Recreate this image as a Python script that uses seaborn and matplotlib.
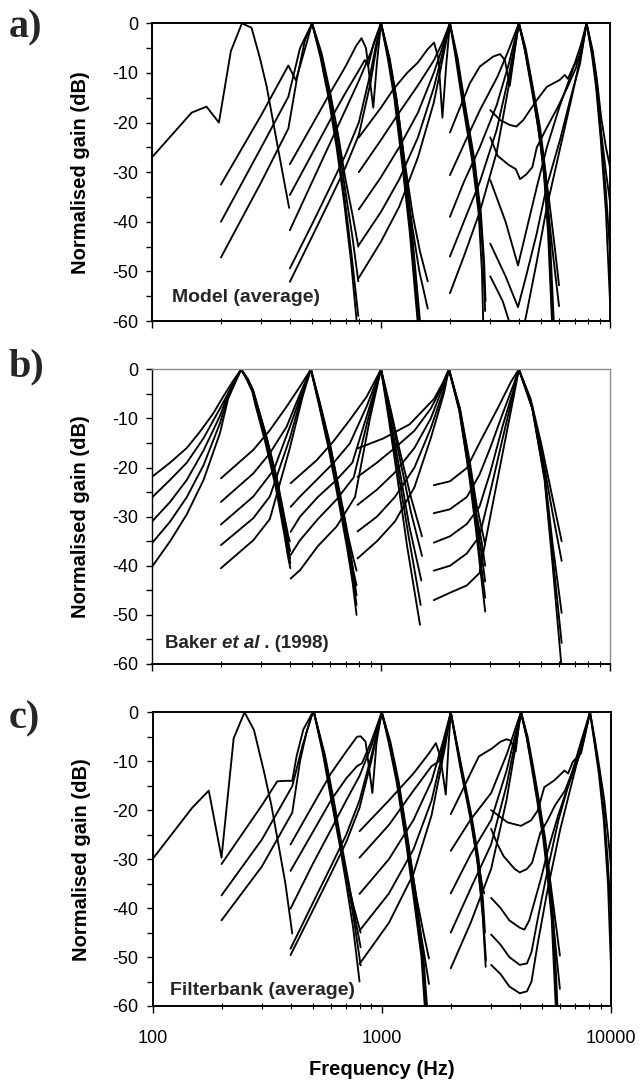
import matplotlib
matplotlib.use("Agg")
import matplotlib.pyplot as plt
import numpy as np
import pandas as pd
import seaborn as sns
from matplotlib.ticker import FixedLocator, FuncFormatter, NullFormatter
from matplotlib.offsetbox import TextArea, HPacker, AnchoredOffsetbox

# ---------------------------------------------------------------------------
# Filter shapes: each curve is a list of (frequency in Hz, normalised gain in dB)
# ---------------------------------------------------------------------------

# a) Model (average)
MODEL_250 = [
    [(100, -27), (149, -18), (173, -16.8), (196, -20), (221, -5.6), (247, 0), (272, -0.9),
     (296, -7), (317, -12.8), (356, -25.5), (397, -37.2)],
]
MODEL_500 = [
    [(200, -32.5), (300, -18.5), (394, -8.5), (425, -11.5), (470, -4.5), (500, 0)],
    [(200, -40), (300, -25), (394, -14.8), (443, -5), (500, 0)],
    [(200, -47.2), (300, -32), (394, -21.2), (430, -11), (465, -3.5), (500, 0)],
    [(500, 0), (550, -6), (600, -14), (650, -22.5), (700, -31.5), (750, -38.5), (796, -45)],
    [(500, 0), (550, -6.5), (600, -15), (650, -24), (700, -34), (750, -43), (796, -52)],
    [(500, 0), (545, -6.5), (595, -15), (645, -25), (695, -35.5), (745, -47), (796, -59)],
    [(500, 0), (545, -7), (590, -15), (640, -25), (690, -36), (740, -48), (790, -62)],
]
MODEL_1000 = [
    [(400, -28.4), (500, -20.5), (600, -14), (700, -8.7), (780, -4.5), (822, -3), (860, -5),
     (925, -17), (960, -8), (1000, 0)],
    [(400, -34.6), (500, -26.3), (600, -19.5), (700, -14), (800, -9.5), (850, -7.4), (880, -8.5),
     (930, -4), (1000, 0)],
    [(400, -41.7), (500, -32), (600, -24.1), (700, -17.4), (800, -11.6), (900, -6), (1000, 0)],
    [(400, -49.4), (500, -40.5), (600, -33), (700, -26.5), (800, -20), (900, -10), (950, -4.5), (1000, 0)],
    [(400, -52.1), (500, -43), (600, -35.5), (700, -29), (800, -22.5), (900, -12), (950, -5.5), (1000, 0)],
    [(1000, 0), (1080, -7), (1155, -15.3), (1253, -28.7), (1349, -42), (1459, -60), (1470, -62)],
    [(1000, 0), (1090, -7), (1170, -15.3), (1270, -28.7), (1365, -42), (1480, -60), (1490, -62)],
    [(1000, 0), (1070, -7), (1145, -15.3), (1240, -28.7), (1335, -42), (1445, -60), (1455, -62)],
    [(1000, 0), (1090, -7.5), (1170, -15.5), (1270, -28), (1380, -39), (1480, -46), (1600, -52)],
    [(1000, 0), (1085, -7.5), (1165, -15.5), (1265, -29), (1370, -41), (1470, -50), (1600, -57.5)],
]
MODEL_2000 = [
    [(800, -23), (1000, -17), (1132, -13.3), (1300, -10), (1449, -7.9), (1600, -5.2), (1706, -3.9),
     (1780, -7), (1854, -19), (1930, -8), (2000, 0)],
    [(800, -30), (1000, -23.5), (1200, -18), (1450, -12.5), (1700, -7.5), (1850, -4), (2000, 0)],
    [(800, -37.5), (1000, -31), (1200, -25), (1450, -18), (1700, -10), (1850, -5), (2000, 0)],
    [(800, -44.7), (1000, -38), (1200, -31.5), (1450, -23), (1700, -13), (1880, -5), (2000, 0)],
    [(800, -51.3), (1000, -44), (1200, -37), (1450, -27), (1700, -16), (1900, -5), (2000, 0)],
    [(2000, 0), (2140, -7), (2287, -15.5), (2530, -27.6), (2703, -38.3), (2790, -47), (2850, -58)],
    [(2000, 0), (2160, -7), (2310, -15.5), (2560, -27.6), (2730, -38.3), (2820, -48), (2860, -56)],
    [(2000, 0), (2120, -7), (2260, -15.5), (2500, -27.6), (2670, -38.3), (2760, -50), (2800, -62)],
]
MODEL_4000 = [
    [(2000, -22), (2443, -12.1), (2703, -8.7), (3090, -6.7), (3310, -6.2), (3475, -7.4), (3650, -12.6),
     (3850, -5), (4000, 0)],
    [(2000, -30.6), (2350, -23.5), (2703, -17.5), (3222, -10.8), (3600, -5.5), (4000, 0)],
    [(2000, -39), (2300, -32), (2700, -25), (3200, -16.5), (3600, -8.5), (4000, 0)],
    [(2000, -47), (2300, -40), (2700, -32), (3200, -21.5), (3600, -11), (4000, 0)],
    [(2000, -54.4), (2300, -47), (2700, -38), (3200, -26), (3600, -13), (4000, 0)],
    [(4000, 0), (4250, -5), (4580, -13.3), (4900, -21), (5180, -30), (5400, -42), (5625, -60), (5700, -64)],
    [(4000, 0), (4280, -5), (4620, -13.3), (4950, -21), (5230, -30), (5450, -42), (5680, -60), (5750, -64)],
    [(4000, 0), (4230, -5), (4550, -13.3), (4860, -21), (5140, -30), (5360, -42), (5580, -60), (5650, -64)],
    [(4000, 0), (4300, -6), (4600, -13.5), (5000, -24), (5400, -35), (5700, -44), (5990, -52.8)],
    [(4000, 0), (4280, -6), (4590, -13.5), (4980, -24.5), (5350, -37), (5650, -47), (5990, -57)],
]
MODEL_8000 = [
    [(3000, -17.5), (3313, -19.5), (3657, -20.5), (3904, -20.8), (4180, -19.5), (4786, -15.5),
     (5300, -12.8), (6040, -11.4), (6350, -10.4), (6550, -11.2), (6920, -8.7), (7410, -6.5), (7900, 0)],
    [(3000, -23), (3230, -26.7), (3600, -28.5), (3880, -29.4), (4045, -31.4), (4300, -30.5), (4580, -29),
     (4790, -25), (5300, -21), (5900, -17), (6500, -13), (7100, -9), (7600, -4), (7900, 0)],
    [(3000, -31.6), (3500, -40), (3965, -48.8), (4300, -42), (4790, -33), (5300, -25), (6000, -17),
     (6800, -10), (7500, -4), (7900, 0)],
    [(3000, -44.4), (3500, -51), (3965, -57.2), (4300, -51), (4790, -42.3), (5290, -32.9), (6050, -23.5),
     (6690, -15.5), (7400, -8.1), (7900, 0)],
    [(3000, -51), (3400, -56), (3650, -60.5), (3800, -63), (4100, -63), (4300, -59), (4790, -48),
     (5300, -37), (6000, -26), (6800, -15), (7500, -6), (7900, 0)],
    [(7900, 0), (8400, -5.5), (8750, -11), (9150, -19), (9600, -25), (10000, -29)],
    [(7900, 0), (8400, -6), (8750, -12), (9150, -22), (9600, -30), (10000, -36)],
    [(7900, 0), (8350, -6), (8700, -12), (9100, -22), (9600, -34), (10000, -46)],
    [(7900, 0), (8350, -6.5), (8700, -13), (9100, -23), (9600, -38), (10000, -56)],
]

# b) Baker et al. (1998)
BAKER_250 = [
    [(100, -21.9), (120, -19), (142, -16), (162, -12.7), (185, -9), (205, -5.5), (225, -2.5), (245, 0)],
    [(100, -26.1), (120, -22.5), (142, -19), (168, -14), (198, -8), (220, -4), (245, 0)],
    [(100, -31), (120, -27), (142, -22.5), (168, -16.5), (198, -9.5), (215, -5), (245, 0)],
    [(100, -35.4), (120, -31), (142, -26), (168, -19.5), (198, -11), (215, -5.5), (245, 0)],
    [(100, -40.2), (120, -35), (142, -29.5), (168, -22.5), (198, -13), (215, -6), (245, 0)],
    [(245, 0), (262, -2), (276, -4.2), (284, -6.2), (316, -13.7), (350, -21.9), (381, -30.7), (394, -34), (400, -35)],
    [(245, 0), (262, -2), (276, -4.2), (285, -6.5), (317, -14), (351, -22.5), (382, -31.5), (395, -35.5), (401, -37)],
    [(245, 0), (261, -2), (275, -4.2), (284, -6.5), (315, -14.2), (349, -23), (380, -32), (394, -36.5), (401, -38.5)],
    [(245, 0), (261, -2.2), (275, -4.5), (283, -6.8), (314, -14.5), (348, -23.5), (379, -33), (394, -37.5), (402, -39.5)],
    [(245, 0), (260, -2.2), (274, -4.5), (282, -7), (313, -15), (347, -24), (378, -33.5), (392, -38), (402, -40.5)],
]
BAKER_500 = [
    [(200, -22.2), (277, -16.4), (327, -12.4), (387, -7.6), (443, -3.5), (494, 0)],
    [(200, -27), (277, -21.2), (327, -17.1), (387, -11.7), (443, -5), (494, 0)],
    [(200, -31.6), (277, -25.9), (340, -20.5), (400, -11.7), (450, -5), (494, 0)],
    [(200, -35.8), (277, -30.3), (327, -25.9), (400, -14), (450, -5.5), (494, 0)],
    [(200, -40.5), (277, -34.8), (327, -30.5), (400, -16), (455, -5.5), (494, 0)],
    [(494, 0), (541, -6.9), (598, -15.1), (662, -25.3), (720, -34.1), (757, -38.5), (782, -41)],
    [(494, 0), (541, -7), (598, -15.3), (662, -25.8), (720, -34.8), (757, -41), (782, -44)],
    [(494, 0), (540, -7.2), (596, -15.6), (660, -26.2), (718, -35.5), (757, -41.5), (782, -46)],
    [(494, 0), (539, -7.4), (594, -16), (657, -26.8), (715, -36), (755, -42.5), (782, -48)],
    [(494, 0), (538, -7.6), (592, -16.4), (655, -27.2), (712, -36.5), (752, -43.5), (782, -50)],
]
BAKER_1000 = [
    [(403, -23.2), (443, -21.5), (524, -18.5), (619, -14.7), (731, -10.3), (865, -5.6), (1000, 0)],
    [(403, -28), (443, -25.9), (524, -22.5), (619, -19.1), (731, -15.1), (865, -7.6), (1000, 0)],
    [(403, -33.1), (443, -30), (530, -26), (640, -22.5), (750, -19), (880, -8.5), (1000, 0)],
    [(403, -37.8), (443, -34.8), (530, -30.5), (640, -26.5), (760, -22), (885, -9.5), (1000, 0)],
    [(403, -42.6), (443, -40.9), (530, -36), (640, -32), (770, -26), (895, -10), (1000, 0)],
    [(1000, 0), (1100, -8), (1200, -16), (1350, -26), (1510, -34)],
    [(1000, 0), (1100, -8.5), (1200, -17.5), (1350, -29), (1510, -38)],
    [(1000, 0), (1090, -9), (1190, -19), (1330, -32), (1500, -43)],
    [(1000, 0), (1085, -9.5), (1180, -20), (1320, -34), (1490, -48)],
    [(1000, 0), (1080, -10), (1170, -21), (1300, -36), (1480, -52)],
]
BAKER_2000 = [
    [(790, -16.1), (1021, -14.1), (1334, -11.2), (1706, -6), (1850, -3), (1980, 0)],
    [(790, -21.9), (960, -19), (1150, -16), (1400, -12.5), (1650, -8), (1850, -3.5), (1980, 0)],
    [(790, -27.6), (960, -24.5), (1150, -21), (1400, -16), (1650, -10), (1850, -4), (1980, 0)],
    [(790, -33), (960, -30), (1150, -26), (1400, -20), (1650, -12), (1870, -4.5), (1980, 0)],
    [(790, -38.5), (960, -35), (1150, -31), (1400, -24), (1650, -14), (1880, -5), (1980, 0)],
    [(1980, 0), (2213, -8), (2445, -19), (2612, -27.5), (2850, -35.7)],
    [(1980, 0), (2213, -8.3), (2445, -20), (2612, -29.5), (2748, -35), (2850, -40)],
    [(1980, 0), (2213, -8.3), (2445, -20.5), (2612, -30.7), (2748, -37.5), (2850, -43.2)],
    [(1980, 0), (2200, -8.5), (2430, -21), (2600, -31.5), (2740, -40), (2850, -46.5)],
    [(1980, 0), (2200, -8.5), (2425, -21.5), (2595, -32.5), (2735, -42), (2850, -49.3)],
]
BAKER_4000 = [
    [(1700, -23.6), (2000, -22.8), (2370, -20.1), (2740, -14.3), (3228, -8), (3700, -2.5), (4000, 0)],
    [(1700, -29.3), (2000, -28.5), (2370, -26), (2690, -21.5), (3000, -16), (3400, -9), (3800, -3), (4000, 0)],
    [(1700, -35.3), (2000, -34), (2370, -31.5), (2690, -28), (3000, -21), (3400, -11.5), (3800, -4), (4000, 0)],
    [(1700, -41), (2000, -40), (2370, -37.5), (2690, -34), (3000, -25), (3400, -14), (3800, -4.5), (4000, 0)],
    [(1700, -47), (2000, -45.5), (2370, -44), (2690, -41.5), (3000, -30), (3400, -17), (3800, -5.5), (4000, 0)],
    [(4000, 0), (4500, -6), (5000, -15), (5600, -26), (6150, -35)],
    [(4000, 0), (4500, -6.5), (5000, -16), (5600, -29), (6150, -39)],
    [(4000, 0), (4580, -7.6), (5180, -21.1), (5620, -35.7), (6150, -49.6)],
    [(4000, 0), (4580, -8), (5180, -22), (5620, -38), (6150, -55.7)],
    [(4000, 0), (4580, -8), (5180, -22.5), (5620, -40), (6150, -61)],
]

# c) Filterbank (average)
BANK_250 = [
    [(100, -30), (149, -19.5), (176, -16), (200, -29.7), (226, -5.3), (252, 0), (277, -3.6), (306, -12),
     (330, -19), (350, -25.6), (380, -35), (407, -45.2)],
]
BANK_500 = [
    [(200, -31), (300, -19), (350, -14.1), (380, -14), (407, -14), (425, -9), (455, -3.5), (500, 0)],
    [(200, -37.4), (300, -26), (407, -15.1), (450, -7), (500, 0)],
    [(200, -42.5), (300, -31.5), (407, -20.5), (440, -10), (470, -4), (500, 0)],
    [(506, 0), (560, -8.7), (608, -17.5), (662, -27), (708, -34.4), (757, -40), (809, -45)],
    [(506, 0), (560, -8.7), (608, -17.5), (662, -27), (708, -34.4), (757, -42.5), (809, -51.7)],
    [(506, 0), (555, -8.7), (600, -17.5), (655, -27), (700, -35), (750, -44), (800, -55)],
    [(506, 0), (565, -8.7), (615, -17.5), (668, -27), (715, -34.4), (765, -42), (809, -48)],
]
BANK_1000 = [
    [(400, -27), (500, -19), (600, -12.5), (700, -8), (780, -5), (809, -4.9), (850, -6), (910, -16.5),
     (950, -6), (1000, 0)],
    [(400, -32.4), (500, -24.5), (600, -18), (700, -13.5), (780, -11), (820, -10.4), (900, -6), (1000, 0)],
    [(400, -40.1), (500, -31), (600, -24), (700, -18), (800, -13), (900, -7), (1000, 0)],
    [(400, -48.3), (500, -39), (600, -31.5), (700, -25), (800, -18), (900, -9), (1000, 0)],
    [(400, -49.6), (500, -40.5), (600, -33), (700, -26.5), (800, -19.5), (900, -10), (1000, 0)],
    [(1000, 0), (1080, -6), (1170, -14.1), (1294, -27), (1407, -39.2), (1503, -50), (1556, -60), (1570, -63)],
    [(1000, 0), (1090, -6), (1185, -14.1), (1310, -27), (1425, -39.2), (1520, -50), (1575, -60), (1590, -63)],
    [(1000, 0), (1070, -6), (1160, -14.1), (1280, -27), (1390, -39.2), (1490, -50), (1540, -60), (1555, -63)],
    [(1000, 0), (1090, -6.5), (1180, -14.5), (1300, -27), (1420, -38), (1520, -45), (1607, -50.3)],
    [(1000, 0), (1085, -6.5), (1175, -14.5), (1295, -27.5), (1410, -39.5), (1515, -48), (1607, -55.5)],
]
BANK_2000 = [
    [(800, -24.3), (1075, -18), (1375, -12.5), (1600, -8.5), (1722, -6.3), (1800, -9), (1902, -16.8),
     (1960, -6), (2000, 0)],
    [(800, -29.7), (1075, -23), (1375, -16), (1650, -11), (1780, -10), (1900, -5), (2000, 0)],
    [(800, -37.1), (1075, -30), (1375, -22), (1650, -14), (1850, -6), (2000, 0)],
    [(800, -44.6), (1075, -37), (1375, -28), (1650, -18), (1870, -7), (2000, 0)],
    [(800, -51.4), (1075, -43), (1375, -33), (1650, -21), (1890, -7), (2000, 0)],
    [(2000, 0), (2213, -11.2), (2449, -21.4), (2618, -29.7), (2753, -35.8), (2800, -37)],
    [(2000, 0), (2230, -11.2), (2470, -21.4), (2640, -29.7), (2760, -38), (2820, -45)],
    [(2000, 0), (2200, -11.2), (2430, -21.4), (2600, -29.7), (2740, -39), (2850, -50.7)],
    [(2000, 0), (2220, -11.5), (2455, -22), (2625, -31), (2760, -42), (2840, -52)],
]
BANK_4000 = [
    [(2000, -20.8), (2213, -16.6), (2443, -12.4), (2654, -9), (3000, -7.5), (3300, -6), (3500, -5.5),
     (3650, -5.8), (3840, -8), (3950, -3), (4050, 0)],
    [(2000, -28.3), (2443, -21.9), (3000, -16.5), (3529, -8.3), (3910, -2), (4050, 0)],
    [(2000, -37), (2443, -29), (3000, -22), (3500, -12), (3900, -3), (4050, 0)],
    [(2000, -45), (2443, -36), (3000, -27), (3500, -15), (3900, -4), (4050, 0)],
    [(2000, -52.3), (2443, -43), (3000, -32), (3500, -18), (3900, -5), (4050, 0)],
    [(4050, 0), (4300, -5), (4530, -11), (4800, -18), (5120, -26), (5350, -34), (5560, -42.2), (5790, -60), (5820, -63)],
    [(4050, 0), (4330, -5), (4570, -11), (4850, -18), (5170, -26), (5400, -34), (5610, -42.2), (5840, -60), (5870, -63)],
    [(4050, 0), (4280, -5), (4500, -11), (4760, -18), (5070, -26), (5300, -34), (5510, -42.2), (5740, -60), (5770, -63)],
    [(4050, 0), (4320, -5.5), (4560, -11.5), (4850, -18.5), (5150, -26.5), (5450, -35), (5700, -42), (5985, -49.7)],
    [(4050, 0), (4310, -5.5), (4550, -11.5), (4830, -18.5), (5140, -27), (5420, -37), (5680, -46), (5985, -56.5)],
]
BANK_8000 = [
    [(3000, -20), (3540, -22.5), (4045, -23.2), (4475, -22.1), (4787, -20.1), (5117, -15.3), (5660, -13.9),
     (6266, -11.9), (6500, -12.5), (6813, -10.1), (7400, -8.4), (8100, 0)],
    [(3000, -23.8), (3200, -27), (3400, -29.4), (3800, -32), (4000, -32.7), (4300, -32), (4530, -30.7),
     (4910, -24.7), (5300, -22), (5700, -19), (6300, -16), (6800, -12), (7400, -8), (8100, 0)],
    [(3000, -37.9), (3300, -40), (3600, -42.5), (4000, -44), (4190, -44.4), (4400, -42.5), (4960, -33.8),
     (5300, -28.3), (5850, -21.4), (6470, -15.3), (7160, -9.8), (8100, 0)],
    [(3000, -45.4), (3300, -47.5), (3600, -50), (4000, -51.6), (4300, -51.3), (4500, -49), (4800, -42),
     (5300, -32), (5900, -22), (6600, -14), (7400, -6), (8100, 0)],
    [(3000, -51.6), (3300, -53.5), (3600, -56), (4000, -57.4), (4300, -57), (4500, -55), (4800, -47),
     (5300, -36), (6000, -24), (6700, -15), (7400, -7), (8100, 0)],
    [(8100, 0), (8500, -5.5), (8890, -11.2), (9350, -18), (9700, -25), (10000, -31.7)],
    [(8100, 0), (8500, -6), (8890, -12), (9350, -21), (9700, -31), (10000, -42)],
    [(8100, 0), (8450, -6), (8850, -12.5), (9300, -22), (9700, -35), (10000, -52)],
]

PANEL_LETTERS = ["a)", "b)", "c)"]
Y_TICKS = [0, -10, -20, -30, -40, -50, -60]
X_TICKS = [100, 1000, 10000]


def curves_frame(groups):
    rows = []
    cid = 0
    for group in groups:
        for curve in group:
            for freq, gain in curve:
                rows.append((cid, freq, gain))
            cid += 1
    return pd.DataFrame(rows, columns=["curve", "freq", "gain"])


sns.set_theme(style="white")
plt.rcParams["font.family"] = ["Liberation Sans", "DejaVu Sans"]
plt.rcParams["axes.unicode_minus"] = False

fig = plt.figure(figsize=(6.43, 10.87), dpi=100)

W, H = 643.0, 1087.0
boxes = [  # left, top, right, bottom in pixels
    (152, 23.3, 610, 321),
    (152, 369.3, 610, 664),
    (152.5, 712.3, 611, 1006),
]
panels = [
    [MODEL_250, MODEL_500, MODEL_1000, MODEL_2000, MODEL_4000, MODEL_8000],
    [BAKER_250, BAKER_500, BAKER_1000, BAKER_2000, BAKER_4000],
    [BANK_250, BANK_500, BANK_1000, BANK_2000, BANK_4000, BANK_8000],
]
letter_y = [37, 376, 728]

axes = []
for i, (box, groups) in enumerate(zip(boxes, panels)):
    l, t, r, b = box
    ax = fig.add_axes([l / W, 1 - b / H, (r - l) / W, (b - t) / H])
    axes.append(ax)
    df = curves_frame(groups)
    sns.lineplot(data=df, x="freq", y="gain", units="curve", estimator=None, sort=False,
                 color="black", linewidth=1.35, legend=False, ax=ax)
    ax.set_xscale("log")
    ax.set_xlim(100, 10000)
    ax.set_ylim(-60, 0)
    ax.yaxis.set_major_locator(FixedLocator(Y_TICKS))
    ax.yaxis.set_minor_locator(FixedLocator(list(range(-55, 0, 10))))
    ax.yaxis.set_major_formatter(FuncFormatter(lambda v, p: f"{v:.0f}"))
    ax.xaxis.set_major_locator(FixedLocator(X_TICKS))
    minors = [m * d for d in (100, 1000) for m in range(2, 10)]
    ax.xaxis.set_minor_locator(FixedLocator(minors))
    ax.xaxis.set_minor_formatter(NullFormatter())
    ax.tick_params(axis="both", which="both", bottom=True, left=True, top=False, right=False,
                   colors="black", labelsize=13)
    ax.tick_params(axis="y", which="major", direction="out", length=4, width=1, pad=6)
    ax.tick_params(axis="y", which="minor", direction="out", length=4, width=1)
    ax.tick_params(axis="x", which="major", direction="out", length=5, width=1, pad=12)
    ax.tick_params(axis="x", which="minor", direction="inout", length=4, width=0.8)
    if i < 2:
        ax.xaxis.set_major_formatter(NullFormatter())
    else:
        ax.xaxis.set_major_formatter(FuncFormatter(lambda v, p: f"{v:.0f}"))
    for name, sp in ax.spines.items():
        sp.set_visible(True)
        sp.set_color("black")
        sp.set_linewidth(1.4)
    if i == 1:
        for name in ("top", "right"):
            ax.spines[name].set_color("#8c8c8c")
            ax.spines[name].set_linewidth(1.0)
        ax.spines["left"].set_linewidth(1.0)
    ax.set_xlabel("")
    ax.set_ylabel("Normalised gain (dB)", fontsize=14.5, fontweight="bold", color="black")
    ax.yaxis.set_label_coords(-0.135, 0.5)
    fig.text(9 / W, 1 - letter_y[i] / H, PANEL_LETTERS[i], family="Liberation Serif",
             fontweight="bold", fontsize=29, ha="left", va="baseline")

axes[0].text(0.044, 0.064, "Model (average)", transform=axes[0].transAxes,
             fontsize=14, fontweight="bold", va="baseline", ha="left")
axes[2].text(0.038, 0.037, "Filterbank (average)", transform=axes[2].transAxes,
             fontsize=14, fontweight="bold", va="baseline", ha="left")

parts = HPacker(children=[
    TextArea("Baker ", textprops=dict(fontsize=13.5, fontweight="bold")),
    TextArea("et al", textprops=dict(fontsize=13.5, fontweight="bold", style="italic")),
    TextArea(" . (1998)", textprops=dict(fontsize=13.5, fontweight="bold")),
], sep=0, align="baseline", pad=0)
anchored = AnchoredOffsetbox(loc="lower left", child=parts, frameon=False, pad=0, borderpad=0,
                             bbox_to_anchor=(0.028, 0.042), bbox_transform=axes[1].transAxes)
axes[1].add_artist(anchored)

axes[2].set_xlabel("Frequency (Hz)", fontsize=14.5, fontweight="bold", color="black")
axes[2].xaxis.set_label_coords(0.5, -0.185)
axes[2].xaxis.label.set_va("top")

fig.savefig("out.png", dpi=100, facecolor="white")
